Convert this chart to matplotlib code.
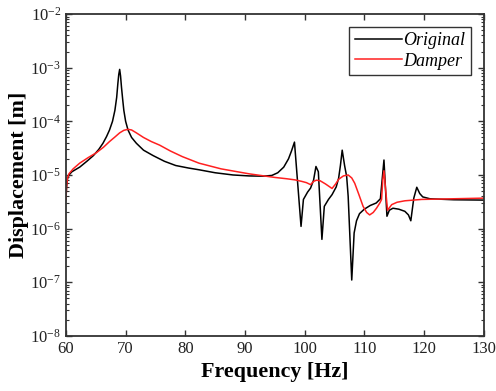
import numpy as np
import matplotlib.pyplot as plt
import matplotlib as mpl
from matplotlib.ticker import FixedLocator, LogLocator, LogFormatterMathtext, NullFormatter

plt.rcParams['font.family'] = ['Liberation Serif', 'DejaVu Serif']
plt.rcParams['mathtext.fontset'] = 'custom'
plt.rcParams['mathtext.rm'] = 'Liberation Serif'
plt.rcParams['mathtext.it'] = 'Liberation Serif:italic'

# values
freq_orig = [60.0, 60.1, 60.25, 60.5, 61.0, 62.3, 63.5, 64.6, 65.5, 66.2, 66.8,
             67.3, 67.8, 68.2, 68.5, 68.7, 68.85, 69.0, 69.15, 69.3, 69.5, 69.7,
             70.0, 70.4, 71.0, 71.8, 73.0, 74.6, 76.5, 78.4, 80.5, 82.3, 85.0,
             88.0, 90.7, 93.0, 94.5, 95.5, 96.5, 97.3, 97.8, 98.3, 99.4, 99.8,
             100.5, 101.0, 101.5, 101.9, 102.3, 102.9, 103.3, 104.0, 104.6, 105.3,
             105.7, 106.0, 106.3, 106.7, 107.05, 107.3, 107.9, 108.3, 108.7, 109.2,
             110.0, 111.0, 112.0, 112.7, 113.3, 113.8, 114.2, 114.8, 115.8, 116.8,
             117.4, 117.8, 118.3, 118.8, 119.3, 119.8, 121.0, 125.0, 130.0]
disp_orig = [3.5e-6, 6e-6, 8.5e-6, 1.0e-5, 1.15e-5, 1.4e-5, 1.8e-5, 2.3e-5, 3.0e-5, 3.9e-5, 5.2e-5,
             6.9e-5, 1.0e-4, 1.6e-4, 2.8e-4, 5.1e-4, 7.5e-4, 9.3e-4, 7.0e-4, 4.4e-4, 2.6e-4, 1.6e-4,
             1.0e-4, 6.9e-5, 5.0e-5, 3.9e-5, 2.9e-5, 2.3e-5, 1.8e-5, 1.5e-5, 1.35e-5, 1.25e-5, 1.1e-5,
             1.0e-5, 9.6e-6, 9.5e-6, 9.8e-6, 1.1e-5, 1.4e-5, 2.0e-5, 2.8e-5, 4.1e-5, 1.1e-6, 3.5e-6,
             4.8e-6, 5.7e-6, 8e-6, 1.44e-5, 1.15e-5, 6.3e-7, 2.6e-6, 3.5e-6, 4.3e-6, 6e-6,
             8.7e-6, 1.5e-5, 2.9e-5, 1.5e-5, 9.3e-6, 4e-6, 1.1e-7, 8.3e-7, 1.4e-6, 1.9e-6,
             2.3e-6, 2.7e-6, 3.0e-6, 3.6e-6, 1.9e-5, 1.7e-6, 2.2e-6, 2.4e-6, 2.3e-6, 2.1e-6,
             1.8e-6, 1.4e-6, 3.7e-6, 5.9e-6, 4.5e-6, 3.9e-6, 3.6e-6, 3.45e-6, 3.4e-6]

freq_damp = [60.0, 60.1, 60.25, 60.5, 61.2, 62.3, 63.7, 65.1, 66.3, 67.3, 68.2,
             69.0, 69.7, 70.4, 71.0, 71.8, 73.0, 74.3, 75.7, 77.5, 79.5, 82.3,
             86.0, 90.7, 95.0, 97.0, 98.4, 99.5, 100.3, 101.0, 101.5, 102.0,
             102.6, 103.5, 104.6, 105.2, 105.7, 106.5, 107.3, 107.9, 108.4, 109.1,
             109.8, 110.4, 110.9, 111.5, 112.05, 112.6, 112.9, 113.1, 113.3, 113.6,
             113.9, 114.6, 115.5, 116.8, 119.6, 125.0, 130.0]
disp_damp = [3.5e-6, 6e-6, 8.5e-6, 1.05e-5, 1.3e-5, 1.66e-5, 2.1e-5, 2.6e-5, 3.3e-5, 4.2e-5, 5.1e-5,
             6.1e-5, 6.8e-5, 7.1e-5, 6.9e-5, 6.1e-5, 5.0e-5, 4.2e-5, 3.6e-5, 2.8e-5, 2.2e-5, 1.66e-5,
             1.3e-5, 1.05e-5, 9e-6, 8.5e-6, 8.1e-6, 7.6e-6, 7.2e-6, 6.6e-6, 7.6e-6, 8.0e-6,
             7.8e-6, 6.8e-6, 5.6e-6, 6.8e-6, 8.3e-6, 9.6e-6, 1.0e-5, 8.8e-6, 7.0e-6, 4.3e-6,
             2.6e-6, 2.0e-6, 1.8e-6, 2.0e-6, 2.4e-6, 3.0e-6, 3.5e-6, 8e-6, 1.2e-5, 5e-6,
             2.2e-6, 2.8e-6, 3.1e-6, 3.3e-6, 3.5e-6, 3.6e-6, 3.7e-6]

y_ticks = [1e-8, 1e-7, 1e-6, 1e-5, 1e-4, 1e-3, 1e-2]
x_ticks = [60, 70, 80, 90, 100, 110, 120, 130]


def main():
    fig = plt.figure(figsize=(4.96, 3.91), dpi=100)
    ax = fig.add_axes([0.133, 0.141, 0.842, 0.823])

    ax.plot(freq_orig, disp_orig, color='black', lw=1.1, label='Original')
    ax.plot(freq_damp, disp_damp, color='#ff2020', lw=1.1, label='Damper')

    ax.set_yscale('log')
    ax.set_xlim(60, 130)
    ax.set_ylim(1e-8, 1e-2)
    ax.set_xticks(x_ticks)
    ax.yaxis.set_major_locator(FixedLocator(y_ticks))
    ax.yaxis.set_major_formatter(LogFormatterMathtext())
    ax.yaxis.set_minor_locator(LogLocator(base=10, subs=np.arange(2, 10), numticks=20))
    ax.yaxis.set_minor_formatter(NullFormatter())

    ax.tick_params(which='both', direction='in', top=True, right=True,
                   labelsize=12, colors='#333333', labelcolor='#222222')
    ax.tick_params(which='major', length=4, width=1)
    ax.tick_params(which='minor', length=2.5, width=0.8)
    for s in ax.spines.values():
        s.set_linewidth(1.3)
        s.set_color('#333333')

    ax.set_xlabel('Frequency [Hz]', fontsize=15.8, fontweight='bold', labelpad=4)
    ax.set_ylabel('Displacement [m]', fontsize=15.8, fontweight='bold', labelpad=1)

    leg = ax.legend(loc='upper right', fancybox=False, framealpha=1,
                    edgecolor='#333333', prop={'style': 'italic', 'size': 13},
                    handlelength=2.6, handletextpad=0.1, borderpad=0.3,
                    labelspacing=0.2, borderaxespad=0.7)
    leg.get_frame().set_linewidth(1.0)

    fig.savefig('out.png', dpi=100)


if __name__ == "__main__":
    main()
